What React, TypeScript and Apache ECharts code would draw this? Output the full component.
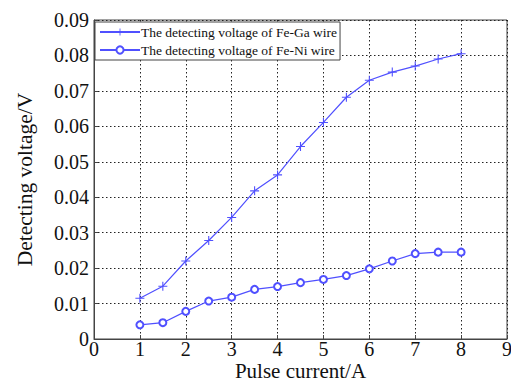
import React, { useEffect, useRef } from "react";
import * as echarts from "echarts";

const currents = [1, 1.5, 2, 2.5, 3, 3.5, 4, 4.5, 5, 5.5, 6, 6.5, 7, 7.5, 8];
const feGa = [0.0115, 0.0149, 0.022, 0.0278, 0.0343, 0.0418, 0.0463, 0.0543, 0.0611, 0.0682, 0.073, 0.0753, 0.077, 0.079, 0.0805];
const feNi = [0.004, 0.0046, 0.0078, 0.0107, 0.0118, 0.014, 0.0148, 0.0159, 0.0168, 0.0179, 0.0198, 0.022, 0.0241, 0.0245, 0.0245];
const seriesNames = ["The detecting voltage of Fe-Ga wire", "The detecting voltage of Fe-Ni wire"];
const xTitle = "Pulse current/A";
const yTitle = "Detecting voltage/V";

const BLUE = "#5050ff";
const FONT = "Liberation Serif";
const PLUS = "path://M-0.6,-5L0.6,-5L0.6,-0.6L5,-0.6L5,0.6L0.6,0.6L0.6,5L-0.6,5L-0.6,0.6L-5,0.6L-5,-0.6L-0.6,-0.6Z";

export default function App() {
  const ref = useRef<HTMLDivElement>(null);
  useEffect(() => {
    const chart = echarts.init(ref.current!, null, { renderer: "svg" });
    const gridLine = { show: true, lineStyle: { color: "#222", type: [1.5, 2.5] as any, width: 1 } };
    const tickRich = { t: { fontFamily: FONT, fontSize: 20, color: "#111" } };
    chart.setOption({
      animation: false,
      backgroundColor: "#fff",
      textStyle: { fontFamily: FONT },
      grid: {
        left: 94,
        right: 4,
        top: 20,
        bottom: 42,
        containLabel: false,
        outerBoundsMode: "none",
        show: true,
        borderColor: "#444",
        borderWidth: 1,
        backgroundColor: "transparent",
      },
      legend: {
        show: true,
        left: 95,
        top: 22,
        orient: "vertical",
        itemGap: 4,
        itemWidth: 40,
        itemHeight: 9,
        padding: [3, 3, 3, 4],
        borderColor: "#444",
        borderWidth: 1,
        backgroundColor: "#fff",
        textStyle: { fontFamily: FONT, fontSize: 13.5, color: "#111", padding: [0, 0, 0, -4] },
        data: seriesNames,
      },
      xAxis: {
        type: "value",
        min: 0,
        max: 9,
        interval: 1,
        name: xTitle,
        nameLocation: "middle",
        nameGap: 21,
        nameMoveOverlap: false,
        nameTextStyle: { fontFamily: FONT, fontSize: 21, color: "#111" },
        axisLine: { show: true, lineStyle: { color: "#444" } },
        axisTick: { show: true, inside: true, length: 4, lineStyle: { color: "#444" } },
        axisLabel: { fontFamily: FONT, fontSize: 20, color: "#111", margin: 0, formatter: (v: number) => `{t|${v}}`, rich: tickRich },
        splitLine: gridLine,
      },
      yAxis: {
        type: "value",
        min: 0,
        max: 0.09,
        interval: 0.01,
        name: yTitle,
        nameLocation: "middle",
        nameGap: 58,
        nameMoveOverlap: false,
        nameTextStyle: { fontFamily: FONT, fontSize: 21.5, color: "#111" },
        axisLine: { show: true, lineStyle: { color: "#444" } },
        axisTick: { show: true, inside: true, length: 4, lineStyle: { color: "#444" } },
        axisLabel: {
          fontFamily: FONT,
          fontSize: 20,
          color: "#111",
          margin: 5,
          formatter: (v: number) => `{t|${v === 0 ? "0" : v.toFixed(2)}}`,
          rich: tickRich,
        },
        splitLine: gridLine,
      },
      series: [
        {
          name: seriesNames[0],
          type: "line",
          data: currents.map((x, i) => [x, feGa[i]]),
          symbol: PLUS,
          symbolSize: 9,
          lineStyle: { color: BLUE, width: 1.2 },
          itemStyle: { color: BLUE },
        },
        {
          name: seriesNames[1],
          type: "line",
          data: currents.map((x, i) => [x, feNi[i]]),
          symbol: "emptyCircle",
          symbolSize: 7,
          lineStyle: { color: BLUE, width: 1.2 },
          itemStyle: { color: BLUE, borderColor: BLUE, borderWidth: 1.2 },
        },
      ],
    });
    return () => chart.dispose();
  }, []);
  return <div ref={ref} style={{ width: 511, height: 381, position: "absolute", left: 0, top: 0 }} />;
}
